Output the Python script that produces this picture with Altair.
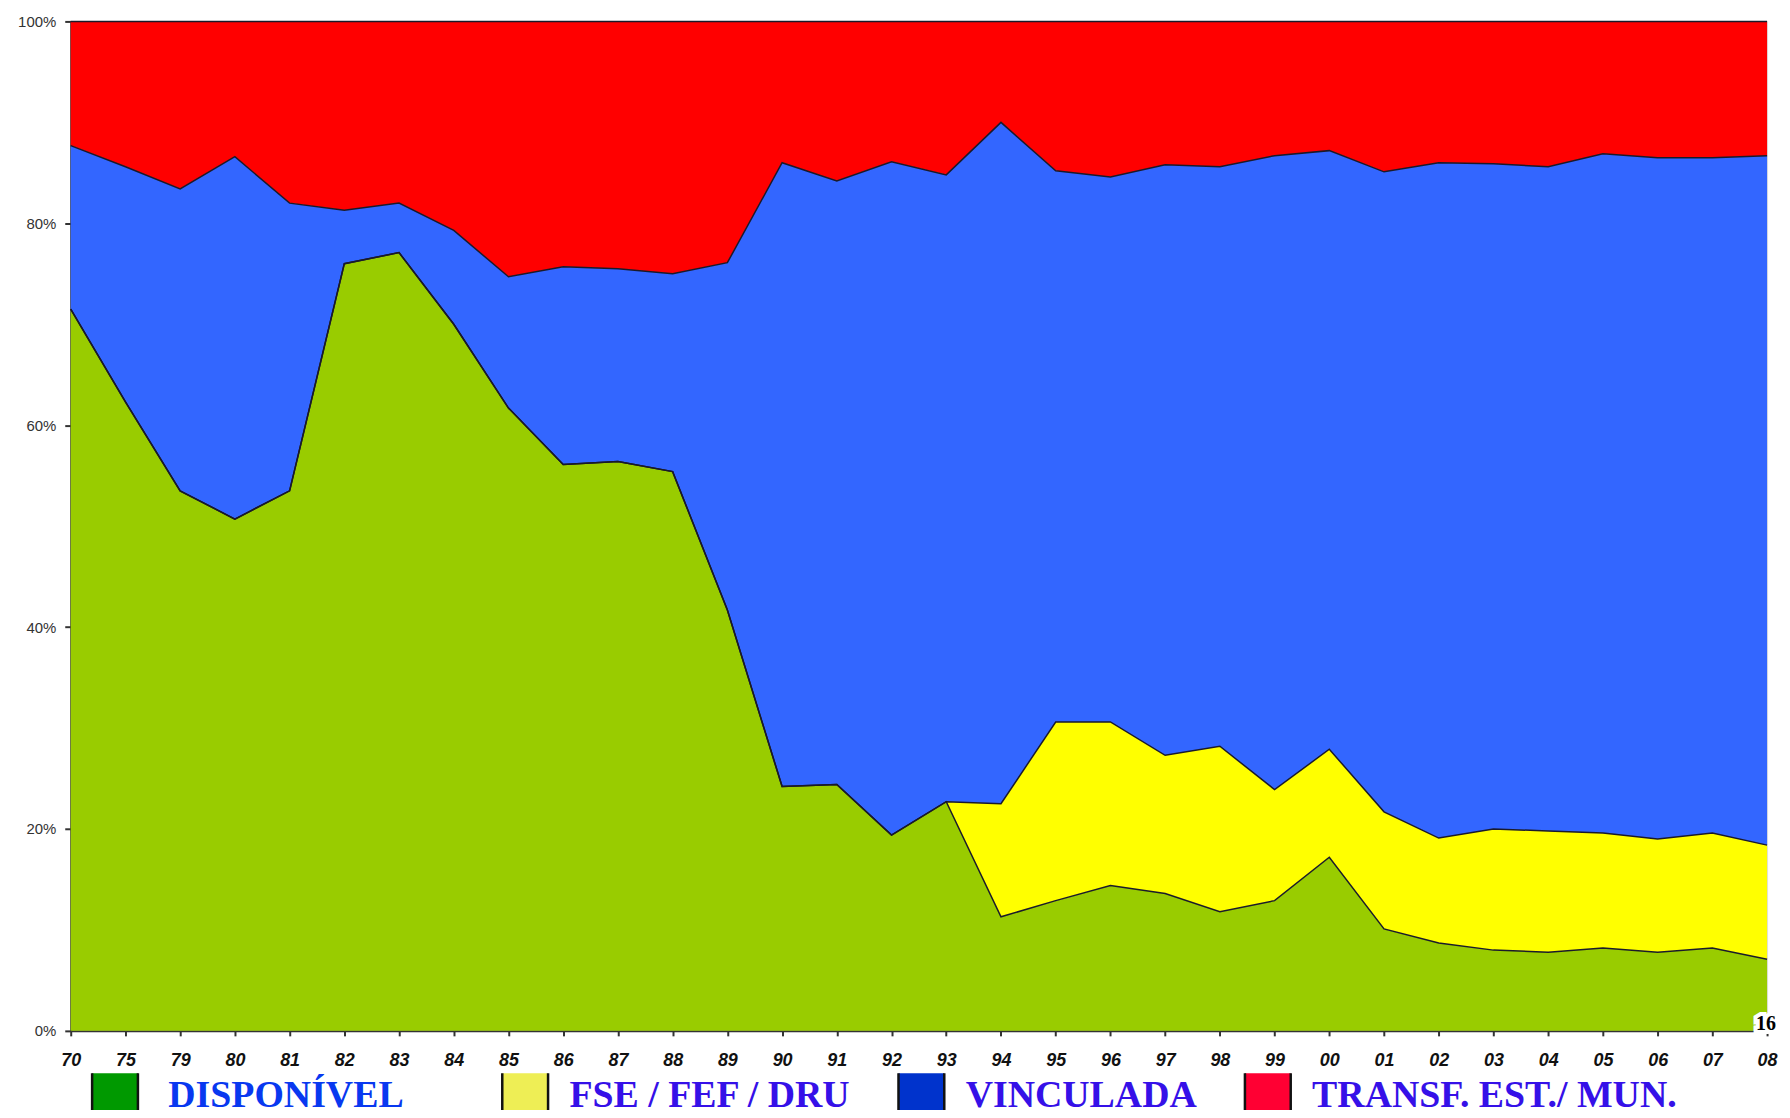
import altair as alt
import pandas as pd

years = ["70", "75", "79", "80", "81", "82", "83", "84", "85", "86", "87", "88", "89",
         "90", "91", "92", "93", "94", "95", "96", "97", "98", "99",
         "00", "01", "02", "03", "04", "05", "06", "07", "08"]

series = ["DISPONÍVEL", "FSE / FEF / DRU", "VINCULADA", "TRANSF. EST./ MUN."]

disponivel = [71.5, 62.3, 53.5, 50.7, 53.5, 76.0, 77.1, 70.0, 61.7, 56.1, 56.4, 55.4, 41.7,
              24.2, 24.4, 19.4, 22.7, 11.3, 12.9, 14.4, 13.6, 11.8, 12.9,
              17.2, 10.1, 8.7, 8.0, 7.8, 8.2, 7.8, 8.2, 7.1]
fse_fef_dru = [0, 0, 0, 0, 0, 0, 0, 0, 0, 0, 0, 0, 0,
               0, 0, 0, 0, 11.2, 17.7, 16.2, 13.7, 16.4, 11.0,
               10.7, 11.6, 10.4, 12.0, 12.0, 11.4, 11.2, 11.4, 11.3]
vinculada = [16.2, 23.3, 29.9, 35.9, 28.5, 5.3, 4.9, 9.3, 13.0, 19.6, 19.1, 19.6, 34.4,
             61.8, 59.8, 66.7, 62.1, 67.5, 54.6, 54.0, 58.5, 57.4, 62.8,
             59.3, 63.4, 66.9, 65.9, 65.8, 67.3, 67.5, 66.9, 68.3]
transf = [12.3, 14.4, 16.6, 13.4, 18.0, 18.7, 18.0, 20.7, 25.3, 24.3, 24.5, 25.0, 23.9,
          14.0, 15.8, 13.9, 15.2, 10.0, 14.8, 15.4, 14.2, 14.4, 13.3,
          12.8, 14.9, 14.0, 14.1, 14.4, 13.1, 13.5, 13.5, 13.3]

y_ticks = [0, 0.2, 0.4, 0.6, 0.8, 1.0]

area_colors = ["#99CC00", "#FFFF00", "#3366FF", "#FF0000"]
legend_colors = ["#009900", "#EEEE55", "#0033CC", "#FF0033"]
legend_label_colors = ["#0838F0", "#3510E8"]
page_number = "16"

rows = []
for i, y in enumerate(years):
    for k, (s, vals) in enumerate(zip(series, [disponivel, fse_fef_dru, vinculada, transf])):
        rows.append({"ano": y, "serie": s, "ord": k, "valor": vals[i]})
df = pd.DataFrame(rows)

x_axis = alt.Axis(title=None, labelAngle=0, labelAlign="center", labelBaseline="top",
                  labelFont="Liberation Sans",
                  labelFontSize=18, labelFontWeight="bold", labelFontStyle="italic",
                  labelColor="#111111", tickSize=5, labelPadding=16,
                  domainColor="#333333", domainWidth=2, tickColor="#333333", tickWidth=2)
x_enc = alt.X("ano:O", sort=years, scale=alt.Scale(padding=0), axis=x_axis)

y_axis = alt.Axis(title=None, values=y_ticks, format=".0%", grid=False,
                  labelFont="Liberation Sans", labelFontSize=15,
                  labelAlign="right", labelBaseline="middle",
                  labelColor="#333333", tickSize=6, labelPadding=9,
                  domainColor="#333333", domainWidth=2, tickColor="#333333", tickWidth=2)
y_scale = alt.Scale(domain=[0, 1], nice=False)

base = alt.Chart(df).transform_stack(
    stack="valor", groupby=["ano"], as_=["y0", "y1"],
    sort=[alt.SortField("ord", order="ascending")], offset="normalize",
)

# open-topped square: fill closes it, stroke draws the two sides (bottom is clipped)
legend_symbol = "M-1,-1L-1,1L1,1L1,-1"


def legend_carrier(names, colors, label_color, legend_x, field, offset, pad):
    return alt.Chart(pd.DataFrame({field: names})).mark_square(
        size=1, opacity=1, filled=True
    ).encode(
        x=alt.datum("80"),
        y=alt.datum(0.3),
        color=alt.Color(f"{field}:N", sort=names,
                        scale=alt.Scale(domain=names, range=colors),
                        legend=alt.Legend(
                            title=None, orient="none", direction="horizontal",
                            legendX=legend_x, legendY=1055, padding=0,
                            symbolType=legend_symbol, symbolSize=2116,
                            symbolStrokeColor="#111111", symbolStrokeWidth=2.5,
                            symbolOpacity=1,
                            labelFont="Liberation Serif", labelFontSize=38,
                            labelFontWeight="bold", labelColor=label_color,
                            labelLimit=0, labelOffset=offset, columnPadding=pad,
                            gridAlign="none",
                        )),
    )


legend_a = legend_carrier(series[:1], legend_colors[:1], legend_label_colors[0], 20, "serie_a", 29, 40)
legend_b = legend_carrier(series[1:], legend_colors[1:], legend_label_colors[1], 432, "serie_b", 20, 42)

areas = base.mark_area(opacity=1).encode(
    x=x_enc,
    y=alt.Y("y1:Q", scale=y_scale, axis=y_axis),
    y2="y0:Q",
    color=alt.Color("serie:N", sort=series,
                    scale=alt.Scale(domain=series, range=area_colors),
                    legend=None),
)

lines = base.mark_line(color="#1a1a2a", strokeWidth=1.5).encode(
    x=alt.X("ano:O", sort=years, axis=x_axis),
    y=alt.Y("y1:Q", axis=y_axis),
    detail="serie:N",
)

page_halo = alt.Chart(pd.DataFrame({"t": [page_number]})).mark_text(
    font="Liberation Serif", fontSize=20, fontWeight="bold", color="#ffffff",
    stroke="#ffffff", strokeWidth=8, strokeJoin="miter",
    align="left", baseline="bottom", dx=-11, dy=3,
).encode(x=alt.datum("08"), y=alt.datum(0), text="t:N")

page = alt.Chart(pd.DataFrame({"t": [page_number]})).mark_text(
    font="Liberation Serif", fontSize=20, fontWeight="bold", color="#000000",
    align="left", baseline="bottom", dx=-11, dy=3,
).encode(x=alt.datum("08"), y=alt.datum(0), text="t:N")

chart = alt.layer(legend_a, legend_b, areas, lines, page_halo, page).resolve_scale(
    color="independent"
).properties(
    width=1704, height=1014,
    autosize=alt.AutoSizeParams(type="none"),
    padding={"left": 63, "top": 11, "right": 15, "bottom": 77},
).configure_view(stroke="#333333", strokeWidth=2).configure(background="white")

chart.save("out.html", embed_options={"renderer": "svg", "actions": False})
